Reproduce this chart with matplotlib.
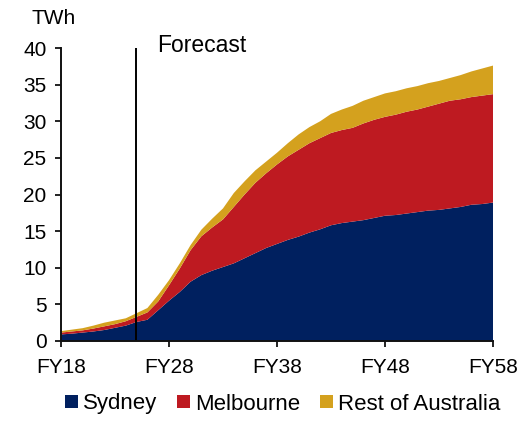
import matplotlib
matplotlib.use("Agg")
import matplotlib.pyplot as plt
import numpy as np

plt.rcParams['font.family'] = ['Liberation Sans', 'DejaVu Sans']

# financial years FY18..FY58
years = np.arange(18, 59)

# cumulative tops (TWh)
sydney_top = [0.9, 1.0, 1.15, 1.3, 1.5, 1.8, 2.1, 2.6, 2.9, 4.2,
              5.5, 6.7, 8.1, 9.0, 9.6, 10.1, 10.6, 11.3, 12.0, 12.7,
              13.25, 13.8, 14.25, 14.8, 15.25, 15.8, 16.1, 16.3, 16.5, 16.8,
              17.1, 17.2, 17.4, 17.6, 17.8, 17.9, 18.1, 18.3, 18.6, 18.7, 18.9]
melbourne_top = [1.15, 1.3, 1.45, 1.7, 2.0, 2.3, 2.7, 3.3, 3.9, 5.4,
                 7.6, 9.9, 12.4, 14.3, 15.5, 16.6, 18.3, 20.0, 21.6, 22.9,
                 24.1, 25.2, 26.1, 27.0, 27.7, 28.4, 28.8, 29.1, 29.7, 30.2,
                 30.6, 30.9, 31.3, 31.6, 32.0, 32.4, 32.8, 33.0, 33.3, 33.5, 33.7]
total_top = [1.35, 1.55, 1.75, 2.1, 2.5, 2.8, 3.1, 3.8, 4.5, 6.3,
             8.3, 10.6, 13.1, 15.2, 16.7, 18.1, 20.2, 21.8, 23.3, 24.5,
             25.7, 27.0, 28.2, 29.2, 30.0, 31.0, 31.6, 32.1, 32.8, 33.3,
             33.8, 34.1, 34.5, 34.8, 35.2, 35.5, 35.9, 36.3, 36.8, 37.2, 37.6]

sydney = np.array(sydney_top)
melbourne = np.array(melbourne_top) - sydney
rest = np.array(total_top) - np.array(melbourne_top)

labels = ['Sydney', 'Melbourne', 'Rest of Australia']
colors = ['#00205F', '#BE1A21', '#D4A11E']
forecast_start = 24.9

fig = plt.figure(figsize=(5.32, 4.22), dpi=100)
ax = fig.add_axes([61 / 532, 1 - 341 / 422, 432 / 532, 293 / 422])

ax.stackplot(years, sydney, melbourne, rest, labels=labels, colors=colors,
             linewidth=0)
ax.axvline(forecast_start, color='black', lw=1.4)
ax.text(26.9, 40.3, 'Forecast', fontsize=16.5, va='center', ha='left', clip_on=False)

ax.set_xlim(18, 58)
ax.set_ylim(0, 40)
ax.set_xticks([18, 28, 38, 48, 58])
ax.set_xticklabels(['FY18', 'FY28', 'FY38', 'FY48', 'FY58'])
ax.set_yticks(range(0, 41, 5))
ax.tick_params(axis='both', labelsize=15, width=1.3, color='#111111')
ax.tick_params(axis='x', length=4.5, pad=7.5)
ax.tick_params(axis='y', length=4.5, pad=6)

for side in ['top', 'right']:
    ax.spines[side].set_visible(False)
for side in ['left', 'bottom']:
    ax.spines[side].set_linewidth(1.4)
    ax.spines[side].set_color('#111111')

fig.text(31 / 532, 1 - 18.5 / 422, 'TWh', fontsize=15, va='center', ha='left')

fig.legend(loc='center', bbox_to_anchor=(283 / 532, 1 - 404 / 422), ncol=3,
           frameon=False, fontsize=16, handlelength=0.55, handleheight=0.55,
           handletextpad=0.25, columnspacing=0.9, borderaxespad=0)

fig.savefig('out.png', dpi=100)
